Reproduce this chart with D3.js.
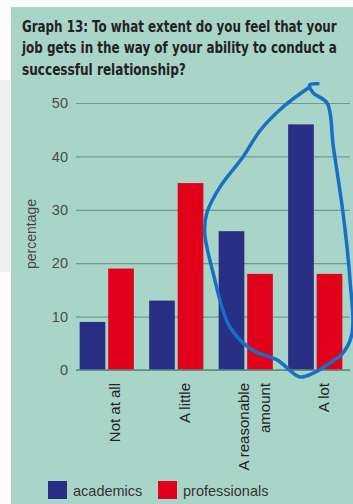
<!DOCTYPE html>
<html>
<head>
<meta charset="utf-8">
<script src="https://cdn.jsdelivr.net/npm/d3@7"></script>
<style>
  html, body { margin: 0; padding: 0; background: #fbf9f9; }
  svg { display: block; }
</style>
</head>
<body>
<div id="chart"></div>
<script>
var categories = ["Not at all", "A little", "A reasonable amount", "A lot"];
var categoryLines = [["Not at all"], ["A little"], ["A reasonable", "amount"], ["A lot"]];
var seriesNames = ["academics", "professionals"];
var academics = [9, 13, 26, 46];
var professionals = [19, 35, 18, 18];
var tickValues = [0, 10, 20, 30, 40, 50];
var titleLines = [
    "Graph 13: To what extent do you feel that your",
    "job gets in the way of your ability to conduct a",
    "successful relationship?"
];
// hand-drawn loop round the last two groups: [group position, percentage]
var annotationLoop = [
    [3.42, 53.0], [3.04, 49.3], [2.71, 44.9], [2.46, 39.9], [2.13, 34.3],
    [1.94, 29.4], [1.91, 25.7], [2.03, 18.2], [2.27, 8.1], [2.60, 3.7],
    [2.95, 1.9], [3.28, -1.3], [3.47, -0.6], [3.71, 1.3], [3.90, 3.2],
    [4.03, 6.9], [4.00, 16.9], [3.90, 29.4], [3.76, 41.8], [3.67, 50.0],
    [3.47, 51.9], [3.42, 53.4], [3.54, 53.6]
];

var width = 353, height = 504;
var colors = { academics: "#2a2f86", professionals: "#e2011b" };

var svg = d3.select("#chart").append("svg")
    .attr("width", width)
    .attr("height", height);

// backgrounds
svg.append("rect").attr("x", 0).attr("y", 0).attr("width", width).attr("height", height).attr("fill", "#fcfafa");
svg.append("rect").attr("x", 0).attr("y", 80).attr("width", 11).attr("height", 192).attr("fill", "#f1efef");
svg.append("rect").attr("x", 11).attr("y", 7).attr("width", width - 11).attr("height", height - 7).attr("fill", "#a9d5c9");

// title: condensed bold, squeezed to the widths seen in the picture
var titleWidths = [315, 315, 164];
svg.append("g").selectAll("text")
    .data(titleLines)
    .enter().append("text")
    .style("font-family", "'Liberation Sans Narrow', 'DejaVu Sans Condensed', 'Liberation Sans', sans-serif")
    .style("font-weight", "bold")
    .style("font-size", "16px")
    .style("fill", "#222")
    .text(function (d) { return d; })
    .attr("transform", function (d, i) {
        var w = this.getComputedTextLength();
        return "translate(22," + (31.5 + i * 21.5) + ") scale(" + (titleWidths[i] / w) + ",1)";
    });

var plotLeft = 76, plotRight = 350;

var y = d3.scaleLinear().domain([0, 50]).range([370, 103]);

var x0 = d3.scaleBand()
    .domain(categories)
    .range([72, 350])
    .paddingInner(0.22)
    .paddingOuter(0.11);

var x1 = d3.scaleBand()
    .domain(seriesNames)
    .range([0, x0.bandwidth()])
    .paddingInner(0.1);

var xPos = d3.scaleLinear().domain([0, 4]).range([72, 350]);

// y axis with gridlines
var yAxis = svg.append("g")
    .attr("transform", "translate(" + plotLeft + ",0)")
    .call(d3.axisLeft(y)
        .tickValues(tickValues)
        .tickSize(-(plotRight - plotLeft))
        .tickPadding(8));

yAxis.select(".domain").remove();
yAxis.selectAll(".tick line")
    .attr("stroke", "#6f9a8f")
    .attr("stroke-width", 1.2);
yAxis.selectAll(".tick text")
    .style("font-family", "'Liberation Sans', Arial, sans-serif")
    .style("font-size", "14.5px")
    .style("fill", "#4a4a4a");

svg.append("text")
    .attr("transform", "translate(36,234) rotate(-90)")
    .attr("text-anchor", "middle")
    .style("font-family", "'Liberation Sans', Arial, sans-serif")
    .style("font-size", "14px")
    .style("fill", "#454545")
    .text("percentage");

// bars
var rows = categories.map(function (c, i) {
    return { category: c, values: [
        { key: "academics", value: academics[i] },
        { key: "professionals", value: professionals[i] }
    ] };
});

var groups = svg.append("g")
    .selectAll("g")
    .data(rows)
    .enter().append("g")
    .attr("transform", function (d) { return "translate(" + x0(d.category) + ",0)"; });

groups.selectAll("rect")
    .data(function (d) { return d.values; })
    .enter().append("rect")
    .attr("x", function (d) { return x1(d.key); })
    .attr("y", function (d) { return y(d.value); })
    .attr("width", x1.bandwidth())
    .attr("height", function (d) { return y(0) - y(d.value); })
    .attr("fill", function (d) { return colors[d.key]; });

// baseline
svg.append("line")
    .attr("x1", plotLeft).attr("x2", plotRight)
    .attr("y1", y(0)).attr("y2", y(0))
    .attr("stroke", "#5f8a80")
    .attr("stroke-width", 1.3);

// category labels, rotated
categoryLines.forEach(function (lines, i) {
    var cx = x0(categories[i]) + x0.bandwidth() / 2;
    var first = 13.5 - (lines.length - 1) * 10.5;
    lines.forEach(function (line, j) {
        svg.append("text")
            .attr("transform", "translate(" + (cx + first + j * 21) + ",383) rotate(-90)")
            .attr("text-anchor", "end")
            .style("font-family", "'Liberation Sans', Arial, sans-serif")
            .style("font-size", "15px")
            .style("fill", "#222")
            .text(line);
    });
});

// legend
var legend = svg.append("g").selectAll("g")
    .data(seriesNames)
    .enter().append("g")
    .attr("transform", function (d, i) { return "translate(" + (i === 0 ? 48 : 158) + ",481)"; });

legend.append("rect")
    .attr("width", 19)
    .attr("height", 18)
    .attr("fill", function (d) { return colors[d]; });

legend.append("text")
    .attr("x", 25)
    .attr("y", 15)
    .style("font-family", "'Liberation Sans', Arial, sans-serif")
    .style("font-size", "14.5px")
    .style("fill", "#333")
    .text(function (d) { return d; });

// annotation loop
var loopLine = d3.line()
    .x(function (d) { return xPos(d[0]); })
    .y(function (d) { return y(d[1]); })
    .curve(d3.curveCatmullRom);

svg.append("path")
    .datum(annotationLoop)
    .attr("d", loopLine)
    .attr("fill", "none")
    .attr("stroke", "#1a6fc2")
    .attr("stroke-width", 3.5)
    .attr("stroke-linecap", "round")
    .attr("stroke-linejoin", "round");
</script>
</body>
</html>
